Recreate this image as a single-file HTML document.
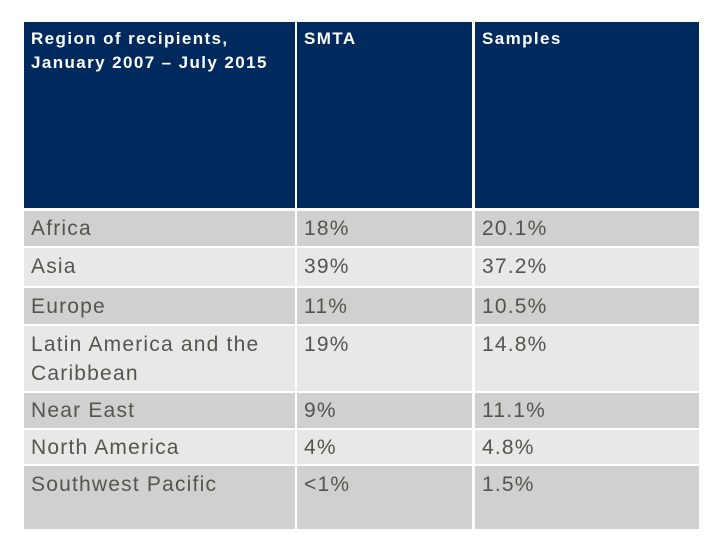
<!DOCTYPE html>
<html><head><meta charset="utf-8"><style>
body{margin:0;width:720px;height:540px;background:#fff;position:relative;overflow:hidden;font-family:"Liberation Sans",Arial,sans-serif}
.c{position:absolute;box-sizing:border-box;padding-left:7px}
.h{background:#002a5e;color:#fff;font-weight:bold;font-size:17px;line-height:24px;letter-spacing:1.4px}
.r{color:#55554d;font-size:21px;line-height:29px;letter-spacing:1.2px}
.d{background:#d0d0d0}.l{background:#e8e8e8}
</style></head><body>
<div id="t"></div>
<script>
const regions=["Africa","Asia","Europe","Latin America and the Caribbean","Near East","North America","Southwest Pacific"];
const smta=["18%","39%","11%","19%","9%","4%","<1%"];
const samples=["20.1%","37.2%","10.5%","14.8%","11.1%","4.8%","1.5%"];
const cols=[[24,271],[297,175],[475,224]];
const rows=[[211,35],[248,38],[288,36],[326,65],[393,35],[430,34],[466,63]];
const t=document.getElementById('t');
const heads=["Region of recipients,<br>January 2007 – July 2015","SMTA","Samples"];
heads.forEach((h,i)=>{const e=document.createElement('div');e.className='c h';


e.style.cssText=`left:${cols[i][0]}px;width:${cols[i][1]}px;top:22px;height:186px;padding-top:5px`;e.innerHTML=h;t.appendChild(e);});
regions.forEach((r,j)=>{[r,smta[j],samples[j]].forEach((v,i)=>{const e=document.createElement('div');
e.className='c r '+(j%2?'l':'d');


e.style.cssText=`left:${cols[i][0]}px;width:${cols[i][1]}px;top:${rows[j][0]}px;height:${rows[j][1]}px;padding-top:${j==0||j==4||j==5?3:4}px`;
e.textContent=v;t.appendChild(e);});});
</script>
</body></html>
